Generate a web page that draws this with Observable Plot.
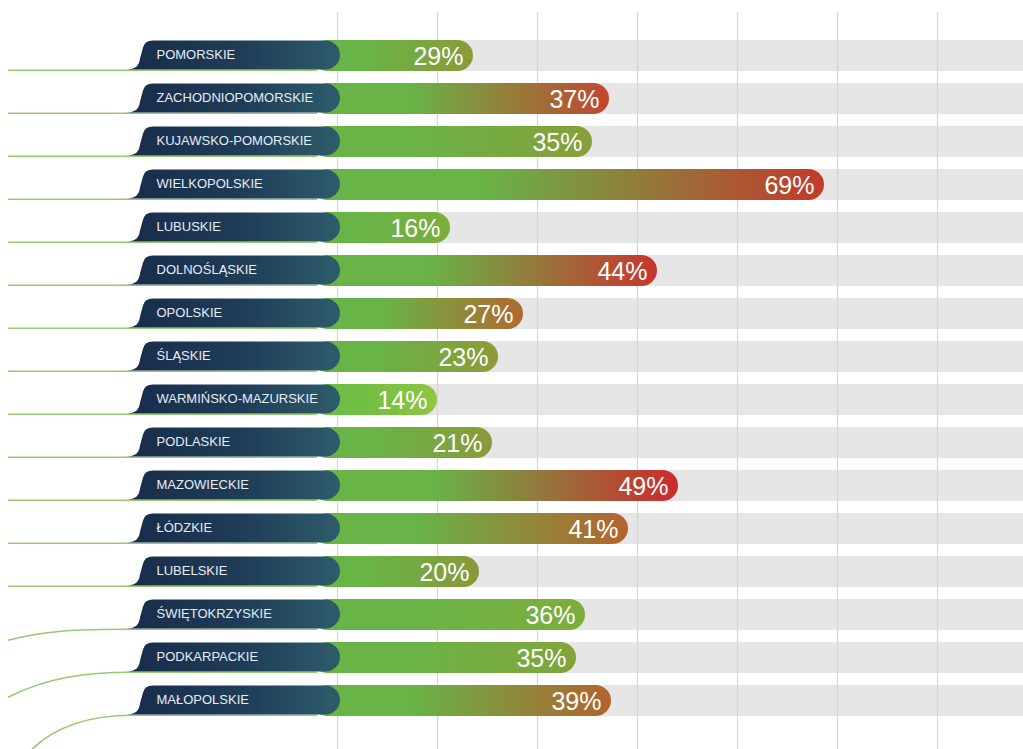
<!DOCTYPE html>
<html>
<head>
<meta charset="utf-8">
<script src="https://cdn.jsdelivr.net/npm/d3@7"></script>
<script src="https://cdn.jsdelivr.net/npm/@observablehq/plot@0.6"></script>
<style>
  html, body { margin: 0; padding: 0; background: #ffffff; }
  #chart svg { display: block; }
</style>
</head>
<body>
<div id="chart"></div>
<script>
// Regions (rows, top to bottom)
const regions = [
  "POMORSKIE", "ZACHODNIOPOMORSKIE", "KUJAWSKO-POMORSKIE", "WIELKOPOLSKIE",
  "LUBUSKIE", "DOLNOŚLĄSKIE", "OPOLSKIE", "ŚLĄSKIE", "WARMIŃSKO-MAZURSKIE",
  "PODLASKIE", "MAZOWIECKIE", "ŁÓDZKIE", "LUBELSKIE", "ŚWIĘTOKRZYSKIE",
  "PODKARPACKIE", "MAŁOPOLSKIE"
];
// Printed percentages
const percents = [29, 37, 35, 69, 16, 44, 27, 23, 14, 21, 49, 41, 20, 36, 35, 39];
// Bar lengths as drawn in the picture (grid units, 10 per grid column)
const lengths = [13.6, 27.2, 25.5, 48.7, 11.3, 32.0, 18.6, 16.1, 10.0, 15.5, 34.1, 29.1, 14.2, 24.8, 23.9, 27.4];
// Colour at the right end of each bar's gradient
const endColors = [
  "#8c9a3a", "#c1472e", "#869f3b", "#c2392c", "#7aae3d", "#c8352e", "#b0692f", "#8d9a3a",
  "#8ec641", "#8b9a3a", "#cc2a2e", "#b5622f", "#8a9839", "#7dad3c", "#82a43b", "#b0642f"
];
// Grid lines
const gridTicks = [0, 10, 20, 30, 40, 50, 60];
const xMax = 68.6;

const data = regions.map((region, i) => ({
  id: i, region, pct: percents[i], len: lengths[i], end: endColors[i]
}));

const startGreen = "#68b447";
const font = "'Liberation Sans', Arial, Helvetica, sans-serif";

function defsMark() {
  const g = d3.create("svg:g");
  const defs = g.append("defs");
  data.forEach(d => {
    const lg = defs.append("linearGradient").attr("id", `bar${d.id}`)
      .attr("x1", 0).attr("x2", 1).attr("y1", 0).attr("y2", 0);
    const s = d.id === 8 ? "#6fbd45" : startGreen;
    lg.append("stop").attr("offset", 0).attr("stop-color", s);
    lg.append("stop").attr("offset", 0.33).attr("stop-color", s);
    lg.append("stop").attr("offset", 1).attr("stop-color", d.end);
  });
  const tg = defs.append("linearGradient").attr("id", "tab")
    .attr("x1", 0).attr("x2", 1).attr("y1", 0).attr("y2", 0);
  tg.append("stop").attr("offset", 0).attr("stop-color", "#172c4a");
  tg.append("stop").attr("offset", 0.55).attr("stop-color", "#1f3d58");
  tg.append("stop").attr("offset", 1).attr("stop-color", "#2e5c6b");
  return g.node();
}

function tabsMark(index, scales) {
  const x = scales.x, y = scales.y;
  const g = d3.create("svg:g");
  const bw = y.bandwidth();
  const x0 = x(0);
  const xr = x0 + 3;
  const xl = x0 - 192;
  regions.forEach(r => {
    const y0 = y(r) + 0.5, y1 = y(r) + bw - 1.5;
    const rr = (y1 - y0) / 2;
    const p = `M${xl - 19},${y1} C${xl - 9},${y1} ${xl - 6},${y1 - 4} ${xl - 5},${y1 - 11} ` +
      `L${xl - 2},${y0 + 7} Q${xl - 0.5},${y0} ${xl + 8},${y0} ` +
      `L${xr - rr},${y0} A${rr},${rr} 0 0 1 ${xr - rr},${y1} Z`;
    g.append("path").attr("d", p).attr("fill", "url(#tab)");
  });
  return g.node();
}

function connectorsMark(index, scales) {
  const x = scales.x, y = scales.y;
  const g = d3.create("svg:g").attr("fill", "none").attr("stroke", "#98ca72").attr("stroke-width", 1.6);
  const bw = y.bandwidth();
  const xs = x(0) - 205;
  regions.forEach((r, i) => {
    const yb = y(r) + bw - 0.8;
    let p;
    if (i === 13) p = `M${x(0) - 20},${yb} L${xs},${yb} C${xs - 55},${yb} ${xs - 85},${yb + 1} ${8},${yb + 11}`;
    else if (i === 14) p = `M${x(0) - 20},${yb} L${xs},${yb} C${xs - 45},${yb} ${xs - 85},${yb + 5} ${8},${yb + 25}`;
    else if (i === 15) p = `M${x(0) - 20},${yb} L${xs},${yb} C${xs - 40},${yb} ${xs - 75},${yb + 10} ${xs - 100},${yb + 34}`;
    else p = `M${x(0) - 20},${yb} L8,${yb}`;
    g.append("path").attr("d", p);
  });
  return g.node();
}

const chart = Plot.plot({
  width: 1023,
  height: 749,
  marginLeft: 337,
  marginRight: 0,
  marginTop: 33,
  marginBottom: 25,
  x: { domain: [0, xMax], axis: null },
  y: { domain: regions, axis: null, paddingInner: 0.27, paddingOuter: 0.135 },
  color: { type: "identity" },
  style: { background: "#ffffff", fontFamily: font },
  marks: [
    defsMark,
    Plot.barX(data, { y: "region", x1: 0, x2: xMax, fill: "#e6e6e6" }),
    Plot.ruleX(gridTicks, { stroke: "#d6d6d6", strokeWidth: 1.2, insetTop: -21, insetBottom: -25 }),
    Plot.barX(data, { y: "region", x1: 0, x2: "len", fill: d => `url(#bar${d.id})`, rx: 15.75, insetLeft: -25 }),
    connectorsMark,
    tabsMark,
    Plot.text(data, {
      y: "region", x: 0, dx: -181, dy: -1, text: "region", textAnchor: "start",
      fill: "#e6edf3", fontSize: 13, fontFamily: font
    }),
    Plot.text(data, {
      y: "region", x: "len", dx: -10, dy: 1, text: d => d.pct + "%", textAnchor: "end",
      fill: "#ffffff", fontSize: 25, fontFamily: font
    })
  ]
});
document.getElementById("chart").appendChild(chart);
</script>
</body>
</html>
